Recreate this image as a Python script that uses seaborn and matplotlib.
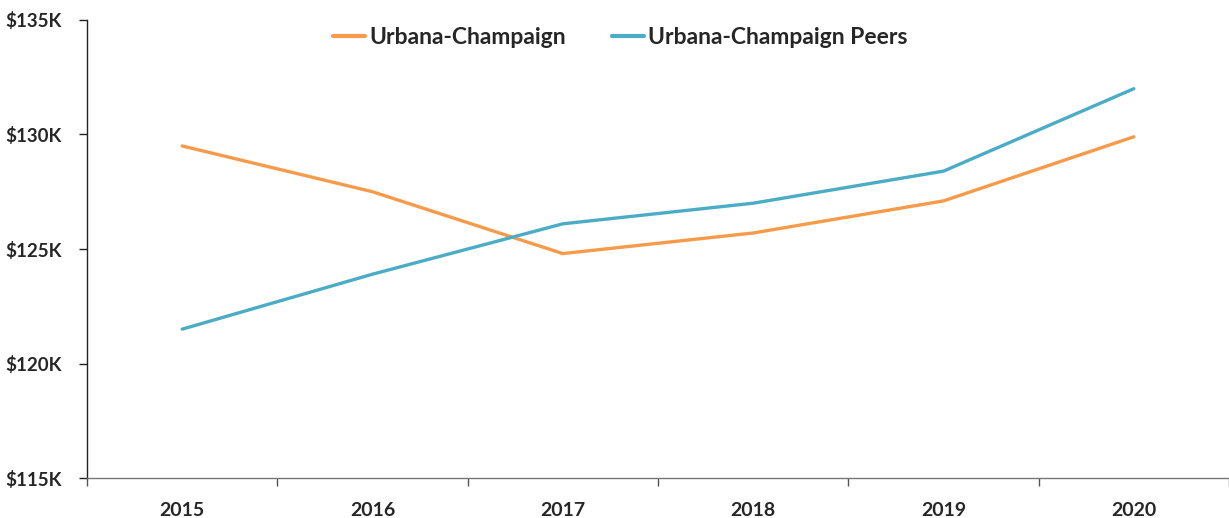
import pandas as pd
import matplotlib.pyplot as plt
from matplotlib.ticker import FixedLocator, FuncFormatter
import seaborn as sns

# --- data (values in $K) ---
years = ['2015', '2016', '2017', '2018', '2019', '2020']
urbana = [129.5, 127.5, 124.8, 125.7, 127.1, 129.9]
peers = [121.5, 123.9, 126.1, 127.0, 128.4, 132.0]
series_names = ['Urbana-Champaign', 'Urbana-Champaign Peers']
colors = ['#F79A4A', '#4BACC6']

df = pd.DataFrame({
    'year': list(range(len(years))) * 2,
    'salary': urbana + peers,
    'series': [series_names[0]] * len(years) + [series_names[1]] * len(years),
})

sns.set_style('white')
plt.rcParams['font.family'] = ['Lato', 'DejaVu Sans']
plt.rcParams['font.weight'] = 'bold'

fig = plt.figure(figsize=(12.29, 5.18), dpi=100)
ax = fig.add_axes([0.0708, 0.0772, 0.9292, 0.8842])

sns.lineplot(data=df, x='year', y='salary', hue='series',
             palette=colors, linewidth=2.4, ax=ax)

ax.set_xlim(-0.5, 5.5)
ax.set_ylim(115, 135)

# category labels at centres, tick marks at category boundaries
ax.set_xticks(range(len(years)))
ax.set_xticklabels(years, fontsize=14, fontweight='bold')
ax.xaxis.set_minor_locator(FixedLocator([i - 0.5 for i in range(len(years) + 1)]))
ax.tick_params(axis='x', which='major', bottom=True, length=0, pad=17)
ax.tick_params(axis='x', which='minor', bottom=True, length=6, width=1,
               color='#555555', direction='out')

ax.set_yticks([115, 120, 125, 130, 135])
ax.yaxis.set_major_formatter(FuncFormatter(lambda v, p: f'${v:.0f}K'))
ax.tick_params(axis='y', left=True, length=6, width=1, color='#222222',
               direction='out', pad=12)
for lbl in ax.get_yticklabels():
    lbl.set_fontsize(13.5)
    lbl.set_fontweight('bold')

for side in ['top', 'right']:
    ax.spines[side].set_visible(False)
ax.spines['left'].set_color('#222222')
ax.spines['bottom'].set_color('#777777')
ax.spines['left'].set_linewidth(1)
ax.spines['bottom'].set_linewidth(1)

ax.set_xlabel('')
ax.set_ylabel('')
ax.grid(False)

leg = ax.legend(loc='upper center', bbox_to_anchor=(0.467, 1.03), ncol=2,
                frameon=False, handlelength=1.4, handletextpad=0.2,
                columnspacing=2.0, prop={'size': 16.5, 'weight': 'bold'})
for line in leg.get_lines():
    line.set_linewidth(3)

fig.savefig('out.png', dpi=100)
